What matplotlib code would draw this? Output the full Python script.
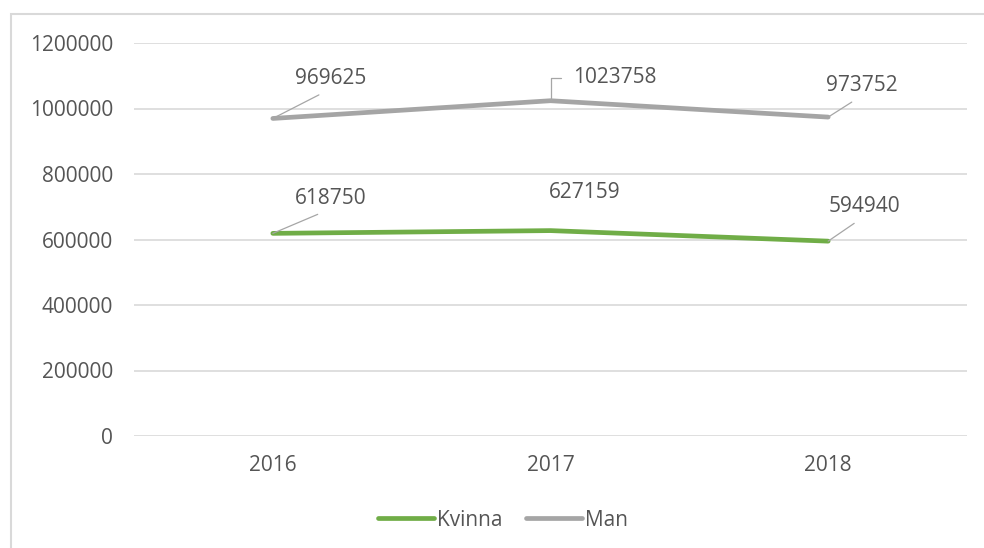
import numpy as np
from matplotlib import pyplot as plt
from matplotlib.patches import Rectangle

# data
years = ["2016", "2017", "2018"]
kvinna = [618750, 627159, 594940]
man = [969625, 1023758, 973752]
yticks = np.arange(0, 1200001, 200000)

plt.rcParams["font.family"] = ["Open Sans", "DejaVu Sans"]
fs = 15
txt_col = "#555555"
green = "#70AD47"
grey = "#A5A5A5"

fig = plt.figure(figsize=(9.84, 5.48), dpi=100)
ax = fig.add_axes([134/984, 1-436/548, 833/984, 393/548])

x = np.arange(len(years))
ax.plot(x, kvinna, color=green, lw=3.4, solid_capstyle="round", label="Kvinna", zorder=3)
ax.plot(x, man, color=grey, lw=3.4, solid_capstyle="round", label="Man", zorder=3)

ax.set_xlim(-0.5, 2.5)
ax.set_ylim(0, 1200000)
ax.set_yticks(yticks)
ax.set_yticklabels([str(v) for v in yticks])
ax.set_xticks(x)
ax.set_xticklabels(years)
ax.tick_params(axis="both", length=0, colors=txt_col, labelsize=fs)
ax.tick_params(axis="y", pad=15)
ax.tick_params(axis="x", pad=14)
ax.grid(axis="y", color="#D9D9D9", lw=1.2)
ax.set_axisbelow(True)
for s in ax.spines.values():
    s.set_visible(False)

# data labels (offset in pixels, leader line style)
lead = dict(arrowstyle="-", color="#A6A6A6", lw=0.9, shrinkB=0)
man_off = [(22, 40), (23, 23), (-2, 32)]
kv_off = [(22, 35), (-2, 38), (0, 35)]
man_arrow = [dict(lead, relpos=(0.5, 0), shrinkA=5),
             dict(lead, relpos=(0, 0.5), shrinkA=7, connectionstyle="angle,angleA=0,angleB=90,rad=0"),
             dict(lead, relpos=(0.5, 0), shrinkA=5)]
kv_arrow = [dict(lead, relpos=(0.5, 0), shrinkA=5),
            None,
            dict(lead, relpos=(0.5, 0), shrinkA=5)]

for i in range(len(years)):
    ax.annotate(str(man[i]), (x[i], man[i]), xytext=man_off[i], textcoords="offset pixels",
                ha="left", va="center", color=txt_col, fontsize=fs, arrowprops=man_arrow[i])
    ax.annotate(str(kvinna[i]), (x[i], kvinna[i]), xytext=kv_off[i], textcoords="offset pixels",
                ha="left", va="center", color=txt_col, fontsize=fs, arrowprops=kv_arrow[i])

leg = fig.legend(loc="center", bbox_to_anchor=(0.511, 1-520/548), ncol=2, frameon=False,
                 handlelength=2.7, handletextpad=0.15, columnspacing=1.1, fontsize=fs)
for t in leg.get_texts():
    t.set_color(txt_col)

# chart border
fig.patches.append(Rectangle((11/984, -0.1), 1.0, (548-14)/548+0.1, transform=fig.transFigure,
                             fill=False, edgecolor="#D9D9D9", lw=1.5))

plt.savefig("out.png", dpi=100)
